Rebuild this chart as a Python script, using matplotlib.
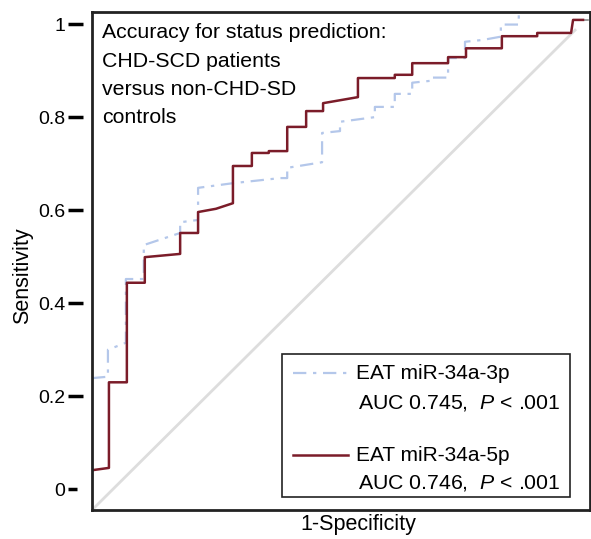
import matplotlib.pyplot as plt
from matplotlib.patches import Rectangle

plt.rcParams['font.family'] = ['Liberation Sans', 'DejaVu Sans']
plt.rcParams['mathtext.fontset'] = 'custom'
plt.rcParams['mathtext.it'] = 'Liberation Sans:italic'
plt.rcParams['mathtext.rm'] = 'Liberation Sans'

# ROC steps (1-specificity, sensitivity)
fpr_5p = [0, 0.034, 0.034, 0.070, 0.070, 0.106, 0.106, 0.177, 0.177, 0.213, 0.213, 0.249, 0.283,
          0.283, 0.321, 0.321, 0.355, 0.355, 0.392, 0.392, 0.430, 0.430, 0.464, 0.464, 0.534,
          0.534, 0.608, 0.608, 0.643, 0.643, 0.715, 0.715, 0.751, 0.751, 0.823, 0.823, 0.894,
          0.894, 0.962, 0.966, 0.986]
tpr_5p = [0.041, 0.046, 0.230, 0.230, 0.444, 0.444, 0.499, 0.506, 0.551, 0.551, 0.596, 0.603, 0.615,
          0.695, 0.695, 0.723, 0.723, 0.727, 0.727, 0.779, 0.779, 0.813, 0.813, 0.830, 0.843,
          0.884, 0.884, 0.891, 0.891, 0.916, 0.916, 0.929, 0.929, 0.948, 0.948, 0.974, 0.974,
          0.981, 0.981, 1.009, 1.009]

fpr_3p = [0, 0.032, 0.032, 0.068, 0.068, 0.104, 0.104, 0.177, 0.177, 0.213, 0.213, 0.283, 0.378,
          0.392, 0.392, 0.462, 0.462, 0.498, 0.498, 0.568, 0.568, 0.608, 0.608, 0.643, 0.643,
          0.679, 0.679, 0.715, 0.715, 0.749, 0.749, 0.785, 0.821, 0.821, 0.857, 0.857]
tpr_3p = [0.239, 0.242, 0.300, 0.315, 0.452, 0.452, 0.525, 0.551, 0.574, 0.579, 0.648, 0.658, 0.669,
          0.669, 0.691, 0.703, 0.766, 0.770, 0.790, 0.800, 0.822, 0.822, 0.850, 0.850, 0.874,
          0.878, 0.885, 0.885, 0.927, 0.927, 0.962, 0.966, 0.973, 0.999, 0.999, 1.06]

yticks = [0, 0.2, 0.4, 0.6, 0.8, 1]
ytick_labels = ['0', '0.2', '0.4', '0.6', '0.8', '1']

red = '#7B1C29'
blue = '#B4C7EA'

fig = plt.figure(figsize=(5.91, 5.39), dpi=100)
ax = fig.add_axes([92 / 591, 29 / 539, 498 / 591, 498 / 539])
ax.set_xlim(0, 1)
ax.set_ylim(-0.0445, 1.026)

# reference line
ax.plot([0, 0.97], [-0.0445, 0.987], color='#DDDDDD', lw=2)

ax.plot(fpr_3p, tpr_3p, color=blue, lw=1.6, dashes=(6, 3, 1.5, 3))
ax.plot([0.986, 1.0], [1.009, 1.009], color='#999999', lw=1.4, dashes=(3, 2))
ax.plot(fpr_5p, tpr_5p, color=red, lw=1.8)

for s in ax.spines.values():
    s.set_linewidth(2)
    s.set_color('#222222')

ax.set_xticks([])
ax.set_yticks(yticks)
ax.set_yticklabels(ytick_labels, fontsize=14)
ax.tick_params(axis='y', length=0, pad=19)
for t in yticks:
    x0 = -0.048
    x1 = -0.030 if t == 0 else -0.018
    ax.plot([x0, x1], [t, t], color='black', lw=2.5, transform=ax.get_yaxis_transform(),
            clip_on=False, solid_capstyle='butt')

ax.set_xlabel('1-Specificity', fontsize=15.5)
ax.xaxis.set_label_coords(0.535, -0.008)
ax.set_ylabel('Sensitivity', fontsize=15.5)
ax.yaxis.set_label_coords(-0.118, 0.470)

ax.text(0.020, 0.977, 'Accuracy for status prediction:\nCHD-SCD patients\nversus non-CHD-SD\ncontrols',
        transform=ax.transAxes, ha='left', va='top', fontsize=15.3, linespacing=1.62)

# legend box
ax.add_patch(Rectangle((0.3815, 0.026), 0.5785, 0.287, transform=ax.transAxes,
                       fill=False, ec='#222222', lw=1.2))
ax.plot([0.404, 0.514], [0.275, 0.275], color=blue, lw=1.6, dashes=(6, 3, 1.5, 3),
        transform=ax.transAxes)
ax.text(0.530, 0.275, 'EAT miR-34a-3p', transform=ax.transAxes, va='center', fontsize=15)
ax.text(0.534, 0.215, 'AUC 0.745,  $P$ < .001', transform=ax.transAxes, va='center', fontsize=15.3)
ax.plot([0.404, 0.514], [0.110, 0.110], color=red, lw=1.8, transform=ax.transAxes)
ax.text(0.530, 0.110, 'EAT miR-34a-5p', transform=ax.transAxes, va='center', fontsize=15)
ax.text(0.534, 0.054, 'AUC 0.746,  $P$ < .001', transform=ax.transAxes, va='center', fontsize=15.3)

fig.savefig('out.png', dpi=100)
